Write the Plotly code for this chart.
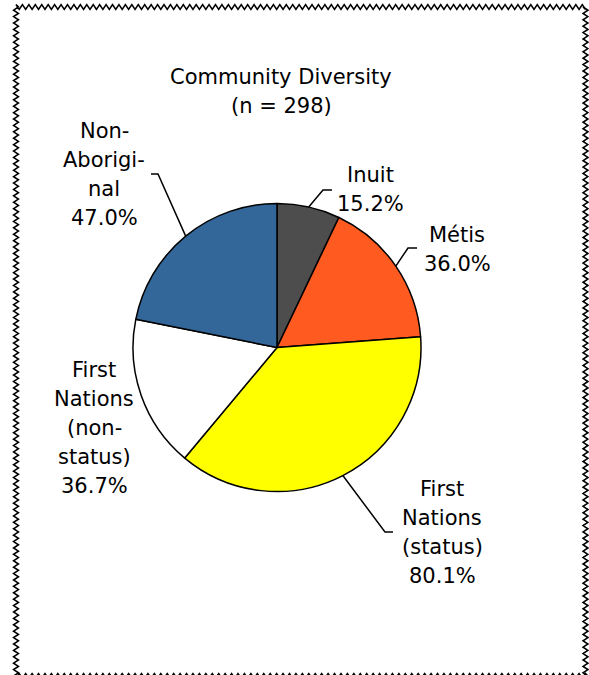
import math
import plotly.graph_objects as go

# Community diversity (multiple responses allowed, so shares exceed 100%)
categories = ["Inuit", "Métis", "First Nations (status)", "First Nations (non-status)", "Non-Aboriginal"]
values = [15.2, 36.0, 80.1, 36.7, 47.0]
label_lines = [
    ["Inuit"],
    ["Métis"],
    ["First", "Nations", "(status)"],
    ["First", "Nations", "(non-", "status)"],
    ["Non-", "Aborigi-", "nal"],
]
colors = ["#4D4D4D", "#FF5A1F", "#FFFF00", "#FFFFFF", "#336699"]

W, H = 589, 675
CX, CY, R = 277, 347.5, 144          # pie centre and radius in pixels
FONT = "DejaVu Sans, Verdana, sans-serif"
FS = 21
LINE_H = 29

# label block centres (x, y of first line) and leader elbows (elbow, end) in pixels
label_pos = [(371, 175), (457, 235), (442, 489), (94, 370), (104, 131)]
leaders = [((323, 190), (332, 190)),
           ((408, 248), (417, 248)),
           ((385, 532), (393, 532)),
           None,
           ((158, 174), (151, 174))]


def px(x):
    return x / W


def py(y):
    return 1 - y / H


fig = go.Figure(go.Pie(
    labels=categories,
    values=values,
    sort=False,
    direction="clockwise",
    rotation=0,
    textinfo="none",
    hoverinfo="label+value",
    marker=dict(colors=colors, line=dict(color="black", width=1.5)),
    domain=dict(x=[px(CX - R), px(CX + R)], y=[py(CY + R), py(CY - R)]),
    showlegend=False,
))

annotations = []
shapes = []

# chart title
for i, t in enumerate(["Community Diversity", "(n = 298)"]):
    annotations.append(dict(x=px(281), y=py(77 + i * LINE_H), xref="paper", yref="paper",
                            text=t, showarrow=False, xanchor="center", yanchor="middle",
                            font=dict(family=FONT, size=FS, color="black")))

# slice labels with percentages, and leader lines from each slice's mid-arc
total = sum(values)
cum = 0.0
for k, v in enumerate(values):
    mid = (cum + v / 2) / total * 2 * math.pi
    cum += v
    lines = label_lines[k] + [f"{v:.1f}%"]
    lx, ly = label_pos[k]
    for i, t in enumerate(lines):
        annotations.append(dict(x=px(lx), y=py(ly + i * LINE_H), xref="paper", yref="paper",
                                text=t, showarrow=False, xanchor="center", yanchor="middle",
                                font=dict(family=FONT, size=FS, color="black")))
    if leaders[k] is not None:
        ex = CX + R * math.sin(mid)
        ey = CY - R * math.cos(mid)
        (bx, by), (tx, ty) = leaders[k]
        shapes.append(dict(type="path", xref="paper", yref="paper",
                           path=f"M {px(ex)},{py(ey)} L {px(bx)},{py(by)} L {px(tx)},{py(ty)}",
                           line=dict(color="black", width=1.5)))

# jagged chart-area border
period, amp = 6.4, 2.4
left, right, top, bottom = 16, 585.5, 7, 676


def zig(p0, p1, horizontal, fixed):
    pts = []
    length = abs(p1 - p0)
    n = int(length / (period / 2))
    step = (p1 - p0) / n
    for i in range(n + 1):
        off = amp if i % 2 else -amp
        t = p0 + i * step
        pts.append((t, fixed + off) if horizontal else (fixed + off, t))
    return pts


pts = (zig(left, right, True, top) + zig(top, bottom, False, right)
       + zig(right, left, True, bottom) + zig(bottom, top, False, left))
path = "M " + " L ".join(f"{px(x):.5f},{py(y):.5f}" for x, y in pts) + " Z"
shapes.append(dict(type="path", xref="paper", yref="paper", path=path,
                   line=dict(color="black", width=1.6), layer="below"))

fig.update_layout(
    width=W, height=H,
    margin=dict(l=0, r=0, t=0, b=0),
    paper_bgcolor="white",
    plot_bgcolor="white",
    annotations=annotations,
    shapes=shapes,
)

fig.write_html("out.html")
